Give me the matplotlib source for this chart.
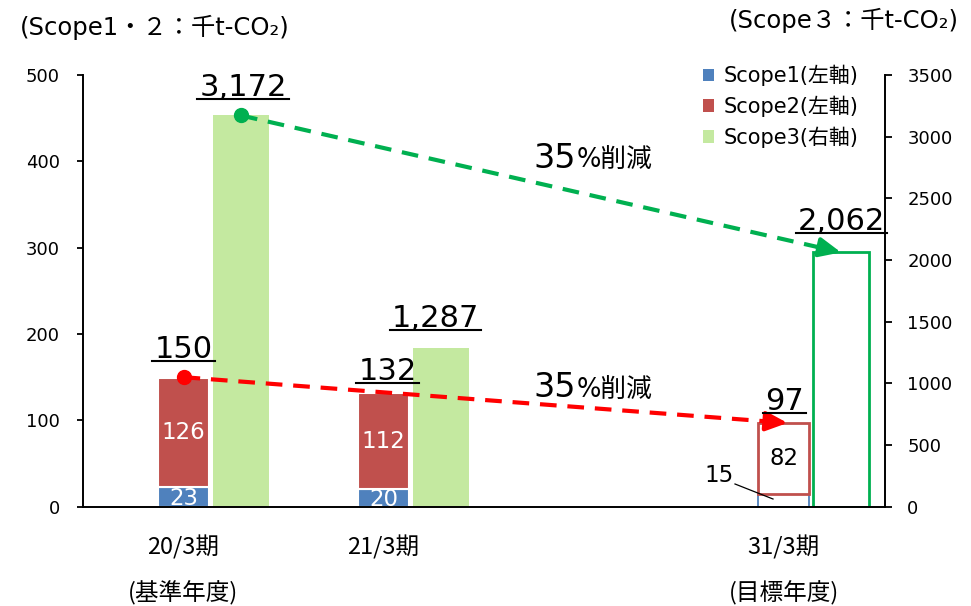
import numpy as np
import matplotlib
matplotlib.use('Agg')
import matplotlib.pyplot as plt
from matplotlib.patches import Patch
from matplotlib.lines import Line2D

plt.rcParams['font.family'] = ['DejaVu Sans', 'Noto Sans CJK JP']

# data
periods = ['20/3期', '21/3期', '31/3期']
period_notes = ['(基準年度)', '', '(目標年度)']
xpos = [0, 1, 3]
scope1 = [23, 20, 15]
scope2 = [126, 112, 82]
scope3 = [3172, 1287, 2062]
totals12 = [150, 132, 97]
scope3_text = ['3,172', '1,287', '2,062']
legend_labels = ['Scope1(左軸)', 'Scope2(左軸)', 'Scope3(右軸)']

blue = '#4F81BD'
red = '#C0504D'
lgreen = '#C4E9A0'
green = '#00B050'

W, H = 971, 606
fig = plt.figure(figsize=(W / 100, H / 100), dpi=100)
ax = fig.add_axes([82.7 / W, 1 - 506.7 / H, (885 - 82.7) / W, (506.7 - 75) / H])
ax2 = ax.twinx()
ax.set_zorder(ax2.get_zorder() + 1)
ax.patch.set_visible(False)

w12 = 0.255
w3 = 0.28
off = 0.2875

for i, x in enumerate(xpos):
    if i < 2:
        ax.bar(x, scope1[i], w12, color=blue, edgecolor='white', linewidth=1.5)
        ax.bar(x, scope2[i], w12, bottom=scope1[i], color=red, edgecolor='white', linewidth=1.5)
        ax2.bar(x + off, scope3[i], w3, color=lgreen, linewidth=0)
    else:
        ax.bar(x, scope1[i], w12, color='white', edgecolor=blue, linewidth=1.3)
        ax.bar(x, scope2[i], w12, bottom=scope1[i], color='white', edgecolor=red, linewidth=2)
        ax2.bar(x + off, scope3[i], w3, color='white', edgecolor=green, linewidth=2)

ax.set_xlim(-0.504, 3.5075)
ax.set_ylim(0, 500)
ax2.set_ylim(0, 3500)
ax.set_yticks(np.arange(0, 501, 100))
ax2.set_yticks(np.arange(0, 3501, 500))
ax.set_xticks([])

for s in ['top', 'right']:
    ax.spines[s].set_visible(False)
for s in ['top', 'left', 'bottom']:
    ax2.spines[s].set_visible(False)
for sp in [ax.spines['left'], ax.spines['bottom'], ax2.spines['right']]:
    sp.set_linewidth(1.4)
    sp.set_color('black')
ax.tick_params(axis='y', direction='out', length=4.5, width=1.3, labelsize=13, pad=12)
ax2.tick_params(axis='y', direction='out', length=5, width=1.3, labelsize=13, pad=11)


def dashed_arrow(a, p0, p1, color):
    p0 = np.array(p0, float)
    p1 = np.array(p1, float)
    pb = p0 + 0.975 * (p1 - p0)
    a.plot([p0[0], pb[0]], [p0[1], pb[1]], color=color, lw=3, dashes=(4, 2.6),
           solid_capstyle='butt', zorder=5)
    pa = p0 + 0.96 * (p1 - p0)
    a.annotate('', xy=p1, xytext=pa,
               arrowprops=dict(arrowstyle='-|>,head_length=1.0,head_width=0.45',
                               mutation_scale=13, color=color, lw=3,
                               shrinkA=0, shrinkB=0), zorder=6)
    a.plot(p0[0], p0[1], 'o', color=color, ms=10, zorder=7)


dashed_arrow(ax, (xpos[0], totals12[0]), (3.02, totals12[2]), '#FF0000')
dashed_arrow(ax2, (xpos[0] + off, scope3[0]), (xpos[2] + off, scope3[2]), green)

# value labels inside bars
for i in range(2):
    ax.text(xpos[i], scope1[i] / 2 - 2, str(scope1[i]), ha='center', va='center',
            fontsize=16.5, color='white', clip_on=True)
    ax.text(xpos[i], scope1[i] + scope2[i] / 2, str(scope2[i]), ha='center',
            va='center', fontsize=16.5, color='white')
ax.text(xpos[2], scope1[2] + scope2[2] / 2, str(scope2[2]), ha='center',
        va='center', fontsize=16.5, color='black')
ax.text(2.6775, 36.7, str(scope1[2]), ha='center', va='center', fontsize=16.5)
ax.plot([2.7575, 2.9475], [26.3, 8.9], color='black', lw=0.9)

# underlined totals
big = []
for x, y, s in [(0.0, 172, str(totals12[0])), (1.02, 146.5, str(totals12[1])),
                (3.005, 112, str(totals12[2])), (0.2975, 475.7, scope3_text[0]),
                (1.26, 208, scope3_text[1]), (3.29, 321, scope3_text[2])]:
    t = ax.text(x, y, s, ha='center', va='baseline', fontsize=22, clip_on=False)
    big.append((t, x, y))

cuts = []
for x, y in [(1.7475, 392.6), (1.7475, 126.5)]:
    t = ax.text(x, y, '35', ha='left', va='baseline', fontsize=24)
    cuts.append((t, x, y))

# category labels
for x, p, n in zip(xpos, periods, period_notes):
    ax.text(x, -46.7, p, ha='center', va='center', fontsize=17,
            family=['Noto Sans CJK JP'], clip_on=False)
    if n:
        ax.text(x, -100, n, ha='center', va='center', fontsize=17,
                family=['Noto Sans CJK JP'], clip_on=False)

fig.text(20 / W, 1 - 27 / H, '(Scope1・２：千t-CO₂)', ha='left', va='center', fontsize=17.5)
fig.text(959 / W, 1 - 20 / H, '(Scope３：千t-CO₂)', ha='right', va='center', fontsize=17.5)

handles = [Patch(facecolor=c) for c in [blue, red, lgreen]]
fig.legend(handles, legend_labels, loc='upper left', bbox_to_anchor=(703 / W, 1 - 65 / H),
           frameon=False, fontsize=15, handlelength=0.55, handleheight=0.55,
           handletextpad=0.45, labelspacing=0.45, borderpad=0, borderaxespad=0)

fig.canvas.draw()
r = fig.canvas.get_renderer()
for t, x, y in big:
    bb = t.get_window_extent(r)
    yb = ax.transData.transform((x, y))[1] - 3
    fig.add_artist(Line2D([(bb.x0 - 2) / W, (bb.x1 + 2) / W], [yb / H, yb / H],
                          color='black', lw=1.5, transform=fig.transFigure))
for t, x, y in cuts:
    bb = t.get_window_extent(r)
    yb = ax.transData.transform((x, y))[1]
    fig.text((bb.x1 + 1) / W, yb / H, '%削減', ha='left', va='baseline', fontsize=18.5)

fig.savefig('out.png', dpi=100)
